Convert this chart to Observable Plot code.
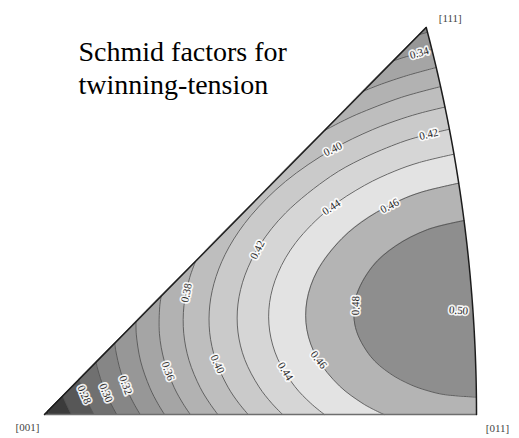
<!DOCTYPE html>
<html>
<head>
<meta charset="utf-8">
<script src="https://cdn.jsdelivr.net/npm/d3@7"></script>
<script src="https://cdn.jsdelivr.net/npm/@observablehq/plot@0.6"></script>
<style>
  html, body { margin: 0; padding: 0; background: #fff; }
  #chart svg { display: block; background: #fff; }
</style>
</head>
<body>
<div id="chart"></div>
<script>
// Corner poles of the standard stereographic triangle
const poles = [
  { label: "[001]", dir: [0, 0, 1] },
  { label: "[011]", dir: [0, 1, 1] },
  { label: "[111]", dir: [1, 1, 1] }
];

// Contour levels of the twinning Schmid factor
const levels = [0.24, 0.26, 0.28, 0.30, 0.32, 0.34, 0.36, 0.38, 0.40, 0.42, 0.44, 0.46, 0.48];
const peakValue = 0.50;

// Contour lines in stereographic coordinates [X, Y]
const c024 = [[0.0046, 0], [0.0033, 0.0025], [0.0031, 0.0031]];
const c026 = [[0.0258, 0], [0.0209, 0.0100], [0.0187, 0.0150], [0.0176, 0.0176]];
const c028 = [[0.0473, 0], [0.0421, 0.0100], [0.0377, 0.0200], [0.0339, 0.0301], [0.0329, 0.0329]];
const c030 = [[0.0692, 0], [0.0612, 0.0151], [0.0550, 0.0301], [0.0504, 0.0452], [0.0495, 0.0495]];
const c032 = [[0.0917, 0], [0.0858, 0.0101], [0.0808, 0.0201], [0.0731, 0.0403], [0.0683, 0.0605], [0.0674, 0.0674]];
const c032top = [[0.3593, 0.3593], [0.3672, 0.3615]];
const c034 = [[0.1151, 0], [0.1088, 0.0101], [0.1010, 0.0253], [0.0921, 0.0506], [0.0880, 0.0760], [0.0877, 0.0877]];
const c034top = [[0.3345, 0.3345], [0.3457, 0.3381], [0.3714, 0.3452]];
const c036 = [[0.1398, 0], [0.1329, 0.0102], [0.1244, 0.0254], [0.1148, 0.0508], [0.1102, 0.0764], [0.1105, 0.1023], [0.1119, 0.1119]];
const c036top = [[0.3058, 0.3058], [0.3151, 0.3095], [0.3233, 0.3126], [0.3473, 0.3205], [0.3756, 0.3282]];
const c038 = [[0.1662, 0], [0.1586, 0.0103], [0.1492, 0.0256], [0.1386, 0.0511], [0.1335, 0.0768], [0.1337, 0.1029], [0.1392, 0.1295], [0.1449, 0.1449]];
const c038top = [[0.2687, 0.2687], [0.2838, 0.2765], [0.2994, 0.2838], [0.3423, 0.3000], [0.3798, 0.3101]];
const c040 = [[0.1953, 0], [0.1866, 0.0103], [0.1760, 0.0258], [0.1641, 0.0515], [0.1584, 0.0773], [0.1585, 0.1036], [0.1645, 0.1305], [0.1770, 0.1585], [0.1978, 0.1880], [0.2310, 0.2204], [0.2755, 0.2505], [0.3147, 0.2695], [0.3427, 0.2798], [0.3623, 0.2856], [0.3840, 0.2908]];
const c042 = [[0.2283, 0], [0.2180, 0.0105], [0.2057, 0.0261], [0.1920, 0.0520], [0.1855, 0.0780], [0.1855, 0.1045], [0.1922, 0.1318], [0.2065, 0.1603], [0.2312, 0.1907], [0.2743, 0.2252], [0.3037, 0.2416], [0.3414, 0.2573], [0.3610, 0.2633], [0.3882, 0.2698]];
const c044 = [[0.2683, 0], [0.2552, 0.0107], [0.2400, 0.0265], [0.2236, 0.0526], [0.2159, 0.0790], [0.2158, 0.1058], [0.2237, 0.1335], [0.2410, 0.1627], [0.2730, 0.1947], [0.3070, 0.2168], [0.3360, 0.2303], [0.3595, 0.2384], [0.3926, 0.2462]];
const c046 = [[0.3254, 0], [0.3140, 0.0055], [0.3044, 0.0109], [0.2828, 0.0270], [0.2613, 0.0536], [0.2516, 0.0802], [0.2516, 0.1075], [0.2616, 0.1359], [0.2851, 0.1663], [0.3110, 0.1867], [0.3408, 0.2025], [0.3618, 0.2104], [0.3972, 0.2188]];
const c048 = [[0.4141, 0.0164], [0.3829, 0.0189], [0.3667, 0.0227], [0.3513, 0.0281], [0.3311, 0.0389], [0.3126, 0.0550], [0.2982, 0.0822], [0.2984, 0.1101], [0.3143, 0.1398], [0.3367, 0.1594], [0.3671, 0.1748], [0.4023, 0.1834]];

// Where the contour values are written
const labelSpots = [
  { level: 0.28, X: 0.0364, Y: 0.0180 },
  { level: 0.30, X: 0.0575, Y: 0.0199 },
  { level: 0.32, X: 0.0767, Y: 0.0274 },
  { level: 0.34, X: 0.3586, Y: 0.3444 },
  { level: 0.36, X: 0.1198, Y: 0.0416 },
  { level: 0.38, X: 0.1342, Y: 0.1154 },
  { level: 0.40, X: 0.1668, Y: 0.0482 },
  { level: 0.40, X: 0.2761, Y: 0.2517 },
  { level: 0.42, X: 0.2052, Y: 0.1552 },
  { level: 0.42, X: 0.3682, Y: 0.2658 },
  { level: 0.44, X: 0.2291, Y: 0.0397 },
  { level: 0.44, X: 0.2752, Y: 0.1958 },
  { level: 0.46, X: 0.2646, Y: 0.0530 },
  { level: 0.46, X: 0.3317, Y: 0.1958 },
  { level: 0.48, X: 0.2972, Y: 0.1031 },
  { level: peakValue, X: 0.3970, Y: 0.0984 }
];

const titleLines = ["Schmid factors for", "twinning-tension"];

// Grey of the region below the first level, then of each band above a level
const baseFill = "#242424";
const bandFills = ["#3b3b3b", "#575757", "#707070", "#868686", "#979797", "#a5a5a5",
                   "#b2b2b2", "#bebebe", "#cacaca", "#d6d6d6", "#e3e3e3", "#b4b4b4", "#8e8e8e"];

// kind: which triangle edges a contour runs between
const pieces = [
  { level: 0.24, kind: "hyp", main: c024 },
  { level: 0.26, kind: "hyp", main: c026 },
  { level: 0.28, kind: "hyp", main: c028 },
  { level: 0.30, kind: "hyp", main: c030 },
  { level: 0.32, kind: "hyp", main: c032, top: c032top },
  { level: 0.34, kind: "hyp", main: c034, top: c034top },
  { level: 0.36, kind: "hyp", main: c036, top: c036top },
  { level: 0.38, kind: "hyp", main: c038, top: c038top },
  { level: 0.40, kind: "arc", main: c040 },
  { level: 0.42, kind: "arc", main: c042 },
  { level: 0.44, kind: "arc", main: c044 },
  { level: 0.46, kind: "arc", main: c046 },
  { level: 0.48, kind: "loop", main: c048 }
];

// Stereographic projection of a crystal direction [x, y, z] onto the (001) plane
function project([a, b, c]) {
  const n = Math.hypot(a, b, c);
  return [(b / n) / (1 + c / n), (a / n) / (1 + c / n)];
}

// Triangle outline: straight [001]-[011], great-circle arc [011]-[111], straight [111]-[001]
function greatArc(u, v, steps) {
  const nu = Math.hypot(...u), nv = Math.hypot(...v);
  const a = u.map(d => d / nu), b = v.map(d => d / nv);
  const w = Math.acos(a[0] * b[0] + a[1] * b[1] + a[2] * b[2]);
  const out = [];
  for (let i = 0; i <= steps; i++) {
    const t = i / steps;
    const s0 = Math.sin((1 - t) * w) / Math.sin(w), s1 = Math.sin(t * w) / Math.sin(w);
    out.push(project([0, 1, 2].map(k => s0 * a[k] + s1 * b[k])));
  }
  return out;
}
const p001 = project(poles[0].dir), p011 = project(poles[1].dir), p111 = project(poles[2].dir);
const arcPts = greatArc(poles[1].dir, poles[2].dir, 60);
const outline = [p001, ...arcPts];

// Layout
const W = 519, H = 438, ML = 44, MR = 43, MT = 27, MB = 24;
const XMAX = p011[0], YMAX = p111[1];
const KX = (W - ML - MR) / XMAX, KY = (H - MT - MB) / YMAX;

// Filled bands: each region above a level is closed around the outside of the triangle and clipped to it
const OUT = 0.6, BELOW = -0.1, OFF = 0.05;
const smooth = d3.line().curve(d3.curveCatmullRom);
function regionPath(p, sx, sy) {
  const P = ([X, Y]) => [sx(X), sy(Y)];
  const L = pts => pts.map(q => "L" + P(q).join(",")).join("");
  const main = p.main;
  const [X0, Y0] = main[0];
  const [Xe, Ye] = main[main.length - 1];
  let d = smooth(main.map(P));
  if (p.kind === "hyp") {
    if (p.top) {
      const [Xt, Yt] = p.top[0];
      const [, Ya] = p.top[p.top.length - 1];
      d += L([[Xe - OFF, Ye + OFF], [Xt - OFF, Yt + OFF], [Xt, Yt]]);
      d += smooth(p.top.map(P)).replace(/^M/, "L");
      d += L([[OUT, Ya], [OUT, BELOW], [X0, BELOW]]);
    } else {
      d += L([[Xe - OFF, Ye + OFF], [Xe - OFF, OUT], [OUT, OUT], [OUT, BELOW], [X0, BELOW]]);
    }
  } else if (p.kind === "arc") {
    d += L([[OUT, Ye], [OUT, BELOW], [X0, BELOW]]);
  } else {
    d += L([[OUT, Ye], [OUT, Y0]]);
  }
  return d + "Z";
}

function bandsMark(index, scales) {
  const sx = scales.x, sy = scales.y;
  const g = d3.create("svg:g");
  const tri = "M" + outline.map(([X, Y]) => [sx(X), sy(Y)].join(",")).join("L") + "Z";
  g.append("clipPath").attr("id", "triangle-clip").append("path").attr("d", tri);
  const body = g.append("g").attr("clip-path", "url(#triangle-clip)");
  body.append("path").attr("d", tri).attr("fill", baseFill);
  for (const p of pieces) {
    body.append("path")
      .attr("d", regionPath(p, sx, sy))
      .attr("fill", bandFills[levels.indexOf(p.level)]);
  }
  return g.node();
}

// Contour strokes
const strokeRows = pieces.flatMap((p, i) =>
  [p.main, p.top].filter(Boolean).flatMap((pts, j) => pts.map(([X, Y]) => ({ id: `${i}-${j}`, X, Y })))
);

// Contour labels sit on their line, turned along it
function placeLabel(lab) {
  const lists = pieces.filter(p => p.level === lab.level).flatMap(p => p.top ? [p.main, p.top] : [p.main]);
  const snap = lists.length > 0;
  let best = null;
  for (const pts of (snap ? lists : [c048])) {
    for (let i = 0; i < pts.length - 1; i++) {
      const [x0, y0] = pts[i], [x1, y1] = pts[i + 1];
      const dx = x1 - x0, dy = y1 - y0, l2 = dx * dx + dy * dy;
      const t = Math.max(0, Math.min(1, ((lab.X - x0) * dx + (lab.Y - y0) * dy) / l2));
      const qx = x0 + t * dx, qy = y0 + t * dy;
      const dist = (qx - lab.X) ** 2 + (qy - lab.Y) ** 2;
      if (!best || dist < best.dist) best = { dist, qx, qy, dx, dy };
    }
  }
  let angle = Math.atan2(-best.dy * KY, best.dx * KX) * 180 / Math.PI;
  if (angle > 90) angle -= 180;
  if (angle <= -90) angle += 180;
  return { text: lab.level.toFixed(2), X: snap ? best.qx : lab.X, Y: snap ? best.qy : lab.Y, angle };
}
const labels = labelSpots.map(placeLabel);

const edgeRows = (pts, id) => pts.map(([X, Y]) => ({ id, X, Y }));
const poleRows = poles.map(p => ({ label: p.label, X: project(p.dir)[0], Y: project(p.dir)[1] }));

const serif = "Liberation Serif, Times New Roman, serif";

const chart = Plot.plot({
  width: W,
  height: H,
  marginLeft: ML,
  marginRight: MR,
  marginTop: MT,
  marginBottom: MB,
  x: { domain: [0, XMAX], axis: null },
  y: { domain: [0, YMAX], axis: null },
  style: { background: "#fff", overflow: "visible" },
  marks: [
    bandsMark,
    Plot.line(strokeRows, { x: "X", y: "Y", z: "id", curve: "catmull-rom", stroke: "#505050", strokeWidth: 0.85 }),
    Plot.line(edgeRows([p001, p011], "bottom"), { x: "X", y: "Y", stroke: "#6e6e6e", strokeWidth: 1.3 }),
    Plot.line(edgeRows(arcPts, "arc"), { x: "X", y: "Y", stroke: "#1c1c1c", strokeWidth: 1.5 }),
    Plot.line(edgeRows([p111, p001], "hyp"), { x: "X", y: "Y", stroke: "#1c1c1c", strokeWidth: 1.4 }),
    Plot.text(labels, {
      x: "X", y: "Y", text: "text", rotate: "angle",
      fontSize: 11, fontFamily: serif, fill: "#2a2a2a",
      stroke: "#fff", strokeWidth: 3.5, strokeOpacity: 0.9
    }),
    Plot.text(poleRows.filter(d => d.label === "[001]"), { x: "X", y: "Y", text: "label", dx: -17, dy: 13, fontSize: 11, fontFamily: serif, fill: "#444" }),
    Plot.text(poleRows.filter(d => d.label === "[011]"), { x: "X", y: "Y", text: "label", dx: 21, dy: 14, fontSize: 11, fontFamily: serif, fill: "#444" }),
    Plot.text(poleRows.filter(d => d.label === "[111]"), { x: "X", y: "Y", text: "label", dx: 24, dy: -9, fontSize: 11, fontFamily: serif, fill: "#444" }),
    Plot.text([titleLines[0]], { frameAnchor: "top-left", text: d => d, dx: 34, dy: 33, lineAnchor: "bottom", textAnchor: "start", fontSize: 28, fontFamily: serif, fill: "#000" }),
    Plot.text([titleLines[1]], { frameAnchor: "top-left", text: d => d, dx: 34, dy: 66, lineAnchor: "bottom", textAnchor: "start", fontSize: 28, fontFamily: serif, fill: "#000" })
  ]
});

document.getElementById("chart").appendChild(chart);
</script>
</body>
</html>
